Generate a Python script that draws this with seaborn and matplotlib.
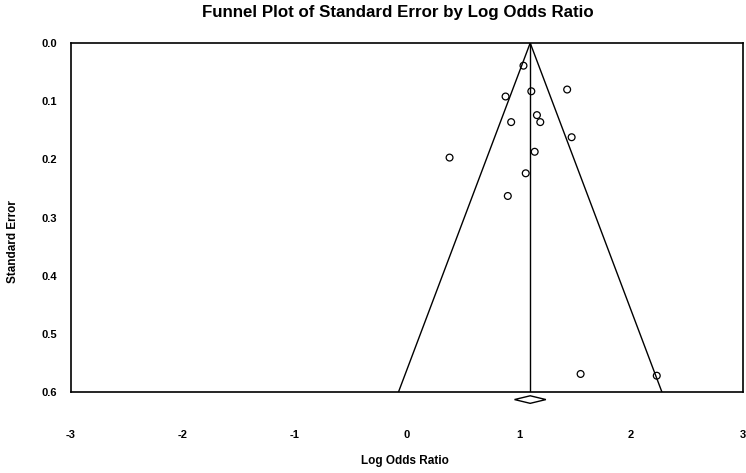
import numpy as np
import pandas as pd
import matplotlib
matplotlib.use('Agg')
import matplotlib.pyplot as plt
import seaborn as sns

# study estimates
log_or = [1.04, 1.11, 1.43, 0.88, 1.16, 1.19, 0.93, 1.47, 1.14, 0.38, 1.06, 0.90, 1.55, 2.23]
std_err = [0.039, 0.083, 0.080, 0.092, 0.124, 0.136, 0.136, 0.162, 0.187, 0.197, 0.224, 0.263, 0.569, 0.572]

pooled = 1.10  # pooled log odds ratio
pooled_ci = [0.96, 1.24]  # diamond ends
se_max = 0.6
x_ticks = [-3, -2, -1, 0, 1, 2, 3]
y_ticks = [0.0, 0.1, 0.2, 0.3, 0.4, 0.5, 0.6]

sns.set_style('white')
plt.rcParams['font.family'] = ['Liberation Sans', 'DejaVu Sans']
plt.rcParams['font.weight'] = 'bold'
for k in ['text.color', 'axes.labelcolor', 'xtick.color', 'ytick.color']:
    plt.rcParams[k] = 'black'

fig = plt.figure(figsize=(7.46, 4.73), dpi=100)
ax = fig.add_axes([71 / 746, 1 - 392 / 473, 672 / 746, 349 / 473])

df = pd.DataFrame({'lor': log_or, 'se': std_err})
sns.scatterplot(data=df, x='lor', y='se', ax=ax, marker='o', s=24,
                facecolor='none', edgecolor='black', linewidth=0.9, zorder=3)

# funnel (95% pseudo CI) and pooled line
se_line = np.array([0, se_max])
ax.plot(pooled - 1.96 * se_line, se_line, color='black', lw=1)
ax.plot(pooled + 1.96 * se_line, se_line, color='black', lw=1)
ax.plot([pooled, pooled], se_line, color='black', lw=1)

# summary diamond just below the axis
d_y = se_max + 0.013
d_h = 0.0065
ax.fill([pooled_ci[0], pooled, pooled_ci[1], pooled],
        [d_y, d_y - d_h, d_y, d_y + d_h],
        facecolor='white', edgecolor='black', lw=1, clip_on=False, zorder=4)

ax.set_xlim(-3, 3)
ax.set_ylim(se_max, 0)
ax.set_xticks(x_ticks)
ax.set_yticks(y_ticks)
ax.set_xticklabels([str(t) for t in x_ticks], fontsize=8, fontweight='bold')
ax.set_yticklabels(['%.1f' % t for t in y_ticks], fontsize=8, fontweight='bold')
ax.tick_params(axis='x', direction='inout', length=4, width=1, pad=25, color='black')
ax.tick_params(axis='y', direction='out', length=3, width=1, pad=7, color='black')
ax.set_xlabel('Log Odds Ratio', fontsize=8.5, fontweight='bold')
ax.set_ylabel('Standard Error', fontsize=8.5, fontweight='bold')
ax.xaxis.set_label_coords(0.497, -0.18)
ax.yaxis.set_label_coords(-0.078, 0.43)
t = ax.set_title('Funnel Plot of Standard Error by Log Odds Ratio',
                 fontsize=12.2, fontweight='bold', pad=19, color='black')
t.set_x(0.486)

for s in ax.spines.values():
    s.set_color('black')
    s.set_linewidth(1.2)

plt.savefig('out.png', dpi=100)
plt.close()
